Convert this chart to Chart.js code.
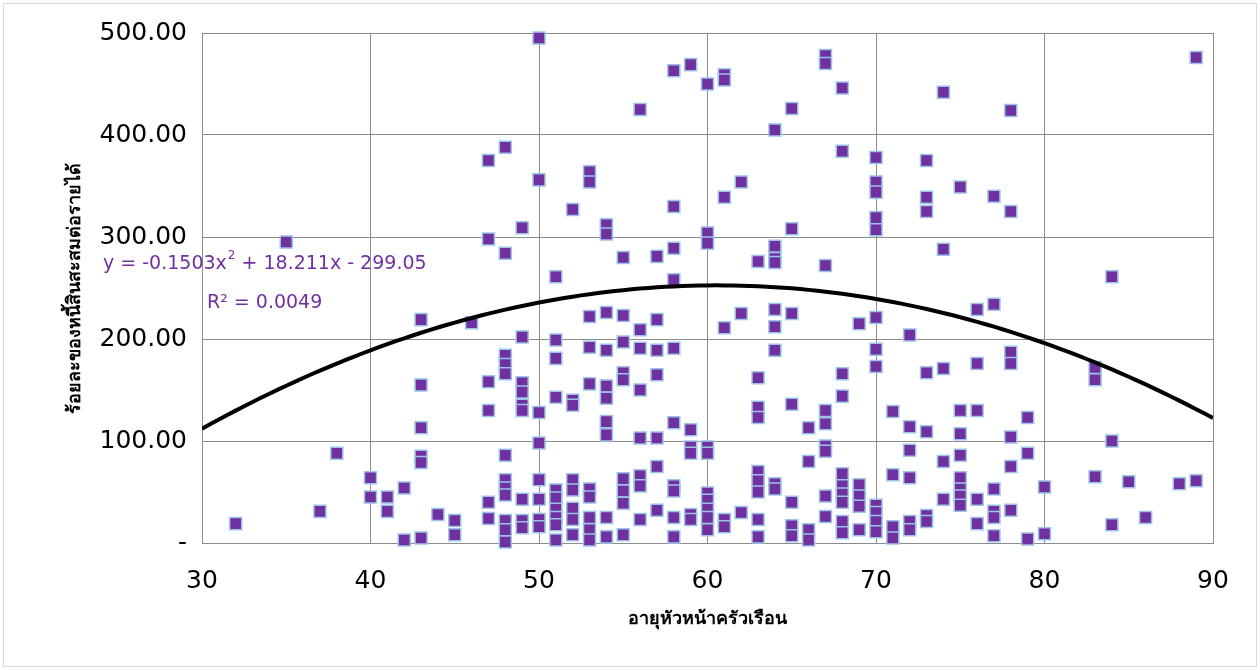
<!DOCTYPE html>
<html>
<head>
<meta charset="utf-8">
<script src="https://cdn.jsdelivr.net/npm/chart.js@4"></script>
<style>
  html, body { margin: 0; padding: 0; background: #ffffff; }
  #wrap { width: 1260px; height: 670px; position: relative; }
</style>
</head>
<body>
<div id="wrap"><canvas id="c" width="1260" height="670"></canvas></div>
<script>
// ---- Data ----
const ages = [
  32, 35, 37, 38, 40, 40, 41, 41, 42, 42,
  43, 43, 43, 43, 43, 43, 44, 45, 45, 46,
  47, 47, 47, 47, 47, 47,
  48, 48, 48, 48, 48, 48, 48, 48, 48, 48, 48, 48,
  49, 49, 49, 49, 49, 49, 49, 49, 49,
  50, 50, 50, 50, 50, 50, 50, 50,
  51, 51, 51, 51, 51, 51, 51, 51, 51, 51,
  52, 52, 52, 52, 52, 52, 52, 52,
  53, 53, 53, 53, 53, 53, 53, 53, 53, 53,
  54, 54, 54, 54, 54, 54, 54, 54, 54, 54,
  55, 55, 55, 55, 55, 55, 55, 55, 55,
  56, 56, 56, 56, 56, 56, 56, 56,
  57, 57, 57, 57, 57, 57, 57,
  58, 58, 58, 58, 58, 58, 58, 58, 58, 58,
  59, 59, 59, 59, 59, 59,
  60, 60, 60, 60, 60, 60, 60, 60, 60, 60,
  61, 61, 61, 61, 61, 61,
  62, 62, 62,
  63, 63, 63, 63, 63, 63, 63, 63, 63,
  64, 64, 64, 64, 64, 64, 64, 64, 64,
  65, 65, 65, 65, 65, 65, 65,
  66, 66, 66, 66,
  67, 67, 67, 67, 67, 67, 67, 67, 67,
  68, 68, 68, 68, 68, 68, 68, 68, 68, 68,
  69, 69, 69, 69, 69,
  70, 70, 70, 70, 70, 70, 70, 70, 70, 70, 70, 70,
  71, 71, 71, 71,
  72, 72, 72, 72, 72, 72,
  73, 73, 73, 73, 73, 73, 73,
  74, 74, 74, 74, 74,
  75, 75, 75, 75, 75, 75, 75, 75,
  76, 76, 76, 76, 76,
  77, 77, 77, 77, 77, 77,
  78, 78, 78, 78, 78, 78, 78,
  79, 79, 79,
  80, 80,
  83, 83, 83,
  84, 84, 84,
  85, 86, 88, 89, 89
];
const debtRatio = [
  19, 295, 31, 88, 64, 45, 45, 31, 54, 3,
  219, 155, 113, 85, 79, 5, 28, 22, 8, 216,
  375, 298, 158, 130, 40, 24,
  388, 284, 184, 175, 166, 86, 62, 54, 47, 22, 13, 1,
  309, 202, 157, 148, 135, 130, 43, 22, 15,
  495, 356, 128, 98, 62, 43, 23, 16,
  261, 199, 181, 143, 52, 44, 33, 25, 18, 3,
  327, 140, 135, 62, 52, 34, 23, 8,
  364, 354, 222, 192, 156, 53, 45, 25, 13, 3,
  312, 303, 226, 189, 154, 142, 119, 106, 25, 6,
  280, 223, 197, 167, 160, 63, 51, 39, 8,
  425, 209, 191, 150, 103, 66, 56, 23,
  281, 219, 189, 165, 103, 75, 32,
  463, 330, 289, 258, 191, 118, 56, 51, 25, 6,
  469, 111, 94, 88, 28, 23,
  450, 304, 294, 94, 88, 49, 42, 33, 25, 13,
  459, 454, 339, 211, 23, 16,
  354, 225, 30,
  276, 162, 133, 123, 70, 61, 50, 23, 6,
  405, 291, 279, 275, 229, 212, 189, 58, 53,
  426, 308, 225, 136, 40, 17, 7,
  113, 80, 13, 3,
  478, 470, 272, 130, 117, 95, 90, 46, 26,
  446, 384, 166, 144, 68, 56, 48, 40, 21, 10,
  215, 57, 46, 36, 13,
  378, 354, 344, 319, 307, 221, 190, 173, 37, 30, 21, 11,
  129, 67, 16, 5,
  204, 114, 91, 64, 21, 13,
  375, 339, 325, 167, 109, 27, 21,
  442, 288, 171, 80, 43,
  349, 130, 107, 86, 64, 53, 46, 37,
  229, 176, 130, 43, 19,
  340, 234, 53, 31, 25, 7,
  424, 325, 187, 176, 104, 75, 32,
  123, 88, 4,
  55, 9,
  172, 160, 65,
  261, 100, 18,
  60, 25, 58, 476, 61
];

// Trendline coefficients as printed on the chart
const trendA = -0.1503, trendB = 18.211, trendC = -299.05;
const trendLabel = ['y = -0.1503x', '2', ' + 18.211x - 299.05'];
const r2Label = 'R² = 0.0049';

const xTickValues = [30, 40, 50, 60, 70, 80, 90];
const xTickLabels = ['30', '40', '50', '60', '70', '80', '90'];
const yTickValues = [0, 100, 200, 300, 400, 500];
const yTickLabels = ['-', '100.00', '200.00', '300.00', '400.00', '500.00'];

const xTitle = 'อายุหัวหน้าครัวเรือน';
const yTitle = 'ร้อยละของหนี้สินสะสมต่อรายได้';

// ---- Build datasets ----
const scatterData = ages.map((a, i) => ({ x: a, y: debtRatio[i] }));
const trendData = [];
for (let x = 30; x <= 90.0001; x += 0.5) {
  trendData.push({ x: x, y: trendA * x * x + trendB * x + trendC });
}

const FONT = "'DejaVu Sans', 'Liberation Sans', sans-serif";
const PURPLE = '#7030A0';

const frame = {
  id: 'frame',
  beforeDraw(chart) {
    const ctx = chart.ctx;
    ctx.save();
    ctx.fillStyle = '#ffffff';
    ctx.fillRect(0, 0, chart.width, chart.height);
    ctx.strokeStyle = '#d9d9d9';
    ctx.lineWidth = 1;
    ctx.strokeRect(3.5, 3.5, chart.width - 7, chart.height - 7);
    ctx.restore();
  },
  afterDatasetsDraw(chart) {
    const ctx = chart.ctx;
    ctx.save();
    ctx.fillStyle = PURPLE;
    ctx.textBaseline = 'middle';
    ctx.textAlign = 'left';
    const big = "19px " + FONT;
    const small = "12px " + FONT;
    let x = 103, y = 264;
    ctx.font = big;
    ctx.fillText(trendLabel[0], x, y);
    x += ctx.measureText(trendLabel[0]).width;
    ctx.font = small;
    ctx.fillText(trendLabel[1], x + 1, y - 8);
    x += ctx.measureText(trendLabel[1]).width + 1;
    ctx.font = big;
    ctx.fillText(trendLabel[2], x, y);
    ctx.fillText(r2Label, 207, 303);
    ctx.restore();
  }
};

new Chart(document.getElementById('c'), {
  type: 'scatter',
  data: {
    datasets: [
      {
        type: 'line',
        label: 'trend',
        data: trendData,
        borderColor: '#000000',
        borderWidth: 4,
        pointRadius: 0,
        fill: false,
        tension: 0,
        order: 0
      },
      {
        label: 'data',
        data: scatterData,
        pointStyle: 'rect',
        pointRadius: 8.5,
        backgroundColor: PURPLE,
        borderColor: '#9DC3E6',
        borderWidth: 1.5,
        clip: false,
        order: 1
      }
    ]
  },
  options: {
    responsive: false,
    animation: false,
    events: [],
    layout: { padding: { left: 0, right: 47, top: 33, bottom: 0 } },
    plugins: {
      legend: { display: false },
      tooltip: { enabled: false }
    },
    scales: {
      x: {
        type: 'linear',
        min: 30, max: 90,
        afterBuildTicks(scale) { scale.ticks = xTickValues.map(v => ({ value: v })); },
        afterFit(scale) { scale.height = 127; },
        ticks: {
          padding: 23,
          color: '#000000',
          font: { family: FONT, size: 25 },
          callback(v) { const i = xTickValues.indexOf(v); return i >= 0 ? xTickLabels[i] : ''; }
        },
        grid: { color: '#8c8c8c', lineWidth: 1, drawTicks: false },
        border: { display: true, color: '#8c8c8c', width: 1 },
        title: {
          display: true,
          text: xTitle,
          color: '#000000',
          font: { family: FONT, size: 18, weight: 'bold' },
          padding: { top: 0, bottom: 40 }
        }
      },
      y: {
        type: 'linear',
        min: 0, max: 500,
        afterBuildTicks(scale) { scale.ticks = yTickValues.map(v => ({ value: v })); },
        afterFit(scale) { scale.width = 202; },
        ticks: {
          padding: 15,
          color: '#000000',
          font: { family: FONT, size: 25 },
          callback(v) { const i = yTickValues.indexOf(v); return i >= 0 ? yTickLabels[i] : ''; }
        },
        grid: { color: '#8c8c8c', lineWidth: 1, drawTicks: false },
        border: { display: true, color: '#8c8c8c', width: 1 },
        title: {
          display: true,
          text: yTitle,
          color: '#000000',
          font: { family: FONT, size: 18, weight: 'bold' },
          padding: { top: 65, bottom: 0 }
        }
      }
    }
  },
  plugins: [frame]
});
</script>
</body>
</html>
